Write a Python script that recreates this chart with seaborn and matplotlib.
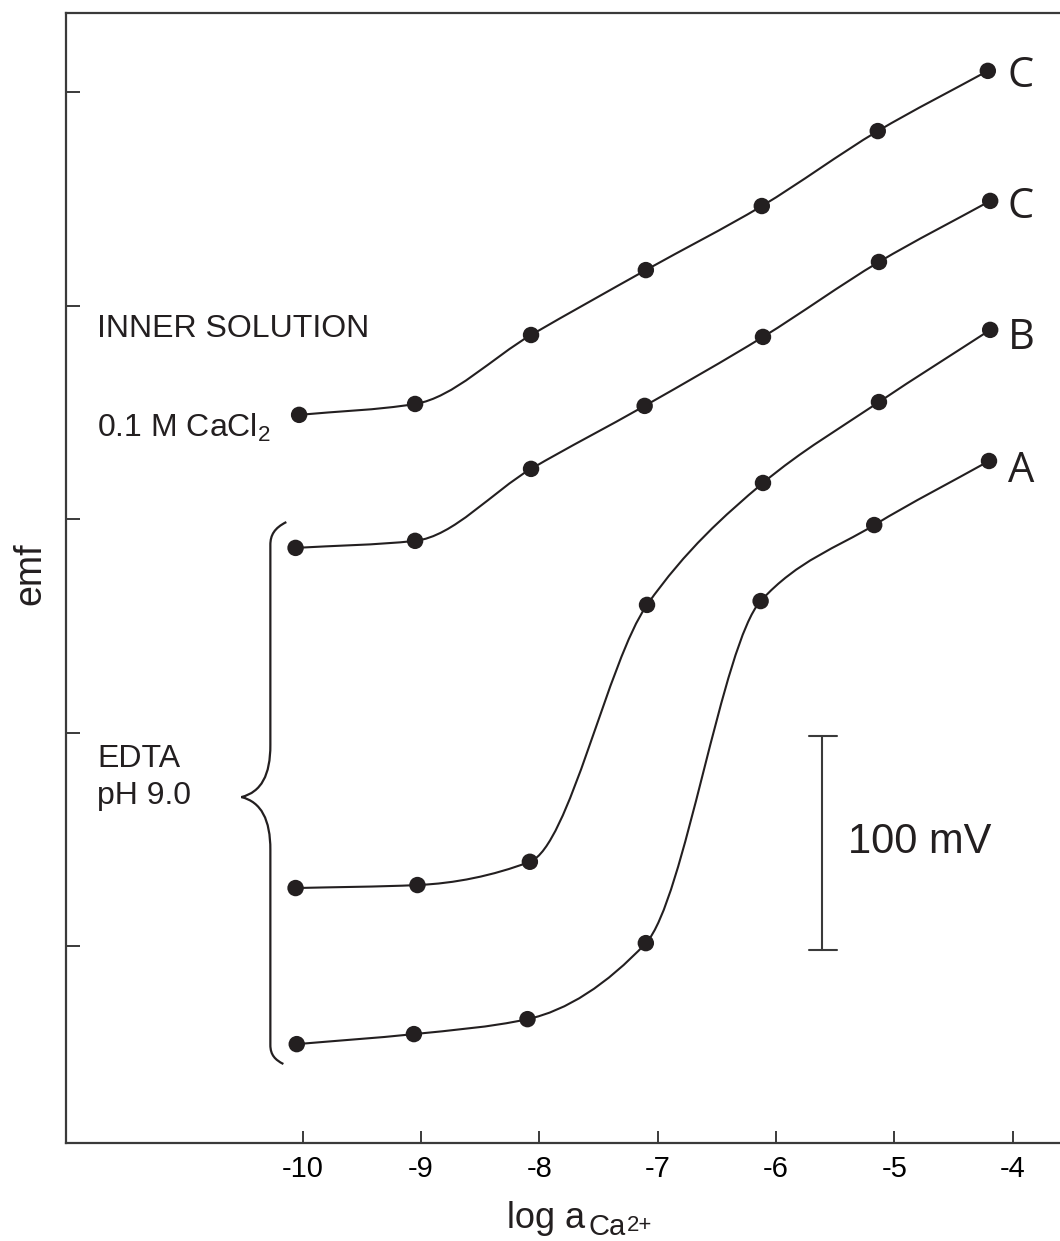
import numpy as np
import pandas as pd
import matplotlib
matplotlib.use("Agg")
import matplotlib.pyplot as plt
import seaborn as sns
from matplotlib.path import Path
from matplotlib.patches import PathPatch

# ---------------- data ----------------
x_C_top = [-10.03, -9.05, -8.07, -7.10, -6.12, -5.14, -4.21]
emf_C_top = [348.9, 354.0, 386.3, 416.7, 446.7, 481.8, 510.0]

x_C = [-10.06, -9.05, -8.07, -7.11, -6.11, -5.13, -4.19]
emf_C = [286.6, 289.9, 323.6, 353.1, 385.4, 420.5, 449.1]

x_B = [-10.06, -9.03, -8.08, -7.09, -6.11, -5.13, -4.19]
emf_B = [127.3, 128.7, 139.6, 259.9, 317.0, 354.9, 388.7]

x_A = [-10.05, -9.06, -8.10, -7.10, -6.13, -5.17, -4.20]
emf_A = [54.2, 58.9, 65.9, 101.5, 261.7, 297.3, 327.3]

curve_ids = ["C1", "C2", "B", "A"]
curve_labels = ["C", "C", "B", "A"]
label_emf = [502.5, 441.1, 379.6, 317.6]

x_ticks = [-10, -9, -8, -7, -6, -5, -4]
x_tick_labels = ["-10", "-9", "-8", "-7", "-6", "-5", "-4"]
y_ticks = [100, 200, 300, 400, 500]
scale_bar_mv = [98.3, 198.5]

# ---------------- style ----------------
sns.set_theme(style="ticks")
plt.rcParams["font.family"] = ["Liberation Sans", "DejaVu Sans"]
plt.rcParams["axes.unicode_minus"] = False
plt.rcParams["mathtext.fontset"] = "custom"
plt.rcParams["mathtext.rm"] = "Liberation Sans"
plt.rcParams["mathtext.it"] = "Liberation Sans:italic"
plt.rcParams["mathtext.bf"] = "Liberation Sans:bold"

INK = "#231f20"
AX = "#3a3a3a"
W, H = 1060, 1241

fig = plt.figure(figsize=(W / 100, H / 100), dpi=100)
ax = fig.add_axes([66 / W, 1 - 1143 / H, (W - 66) / W, (1143 - 13) / H])

xs_all = [x_C_top, x_C, x_B, x_A]
ys_all = [emf_C_top, emf_C, emf_B, emf_A]
df = pd.concat(
    [pd.DataFrame({"log_a": xs, "emf": ys, "curve": cid})
     for xs, ys, cid in zip(xs_all, ys_all, curve_ids)],
    ignore_index=True,
)


def smooth_path(xs, ys):
    """Monotone (Fritsch-Butland) cubic through the points, as Bezier path."""
    x = np.asarray(xs, float)
    y = np.asarray(ys, float)
    n = len(x)
    h = np.diff(x)
    d = np.diff(y) / h
    m = np.zeros(n)
    m[0], m[-1] = d[0], d[-1]
    for k in range(1, n - 1):
        if d[k - 1] * d[k] <= 0:
            m[k] = 0.0
        else:
            w1 = 2 * h[k] + h[k - 1]
            w2 = h[k] + 2 * h[k - 1]
            m[k] = (w1 + w2) / (w1 / d[k - 1] + w2 / d[k])
    verts = [(x[0], y[0])]
    codes = [Path.MOVETO]
    for k in range(n - 1):
        c1 = (x[k] + h[k] / 3, y[k] + m[k] * h[k] / 3)
        c2 = (x[k + 1] - h[k] / 3, y[k + 1] - m[k + 1] * h[k] / 3)
        verts += [c1, c2, (x[k + 1], y[k + 1])]
        codes += [Path.CURVE4] * 3
    return Path(verts, codes)


for cid in curve_ids:
    sub = df[df["curve"] == cid]
    ax.add_patch(PathPatch(smooth_path(sub["log_a"], sub["emf"]),
                           facecolor="none", edgecolor=INK, lw=1.5, zorder=2))

sns.scatterplot(data=df, x="log_a", y="emf", color=INK, s=140,
                edgecolor="none", linewidth=0, legend=False, ax=ax, zorder=3)

ax.set_xlim(-12.0, -3.6)
ax.set_ylim(7.9, 537.1)
ax.set_xticks(x_ticks)
ax.set_xticklabels(x_tick_labels)
ax.set_yticks(y_ticks)
ax.set_yticklabels([])
ax.set_xlabel("")
ax.set_ylabel("")

for s in ["left", "top", "bottom"]:
    ax.spines[s].set_color(AX)
    ax.spines[s].set_linewidth(1.6)
ax.spines["right"].set_visible(False)
ax.tick_params(axis="x", direction="in", length=8.6, width=1.4, color=AX,
               labelsize=21, pad=8.5, labelcolor="black")
ax.tick_params(axis="y", direction="in", length=10, width=1.4, color=AX,
               left=True, right=False)

# curve letters
for lab, yv in zip(curve_labels, label_emf):
    ax.text(-4.04, yv, lab, fontsize=30, family=["Open Sans", "DejaVu Sans"],
            ha="left", va="baseline", color=INK)

# annotations
ax.text(-11.736, 385.4, "INNER SOLUTION", fontsize=23, ha="left",
        va="baseline", color=INK)
ax.text(-11.736, 338.7, "0.1 M CaCl$_2$", fontsize=23, ha="left",
        va="baseline", color=INK)
ax.text(-11.736, 183.8, "EDTA", fontsize=23, ha="left", va="baseline",
        color=INK)
ax.text(-11.736, 166.7, "pH 9.0", fontsize=23, ha="left", va="baseline",
        color=INK)

# brace
brace_v = [(-10.138, 298.7),
           (-10.239, 295.9), (-10.273, 292.6), (-10.273, 288.0),
           (-10.273, 194.3),
           (-10.273, 180.2), (-10.349, 172.3), (-10.518, 169.9),
           (-10.349, 167.6), (-10.273, 159.2), (-10.273, 145.2),
           (-10.273, 53.8),
           (-10.273, 49.1), (-10.231, 46.8), (-10.163, 44.9)]
brace_c = [Path.MOVETO,
           Path.CURVE4, Path.CURVE4, Path.CURVE4,
           Path.LINETO,
           Path.CURVE4, Path.CURVE4, Path.CURVE4,
           Path.CURVE4, Path.CURVE4, Path.CURVE4,
           Path.LINETO,
           Path.CURVE4, Path.CURVE4, Path.CURVE4]
ax.add_patch(PathPatch(Path(brace_v, brace_c), facecolor="none",
                       edgecolor=INK, lw=1.6, zorder=2))

# 100 mV scale bar
ax.plot([-5.613, -5.613], scale_bar_mv, color=AX, lw=1.5)
for yv in scale_bar_mv:
    ax.plot([-5.724, -5.487], [yv, yv], color=AX, lw=1.5)
ax.text(-5.39, 143.8, "100 mV", fontsize=30, ha="left", va="baseline",
        color=INK)


# axis labels (figure pixel positions)
def fpx(x, y_top):
    return x / W, 1 - y_top / H


fig.text(*fpx(30, 574), "emf", fontsize=27, rotation=90, ha="center",
         va="center", color=INK)
fig.text(*fpx(507, 1228), "log a", fontsize=26, ha="left", va="baseline",
         color=INK)
fig.text(*fpx(588, 1235), "Ca", fontsize=21, ha="left", va="baseline",
         color=INK)
fig.text(*fpx(627, 1231), "2+", fontsize=16, ha="left", va="baseline",
         color=INK)

fig.savefig("out.png", dpi=100)
